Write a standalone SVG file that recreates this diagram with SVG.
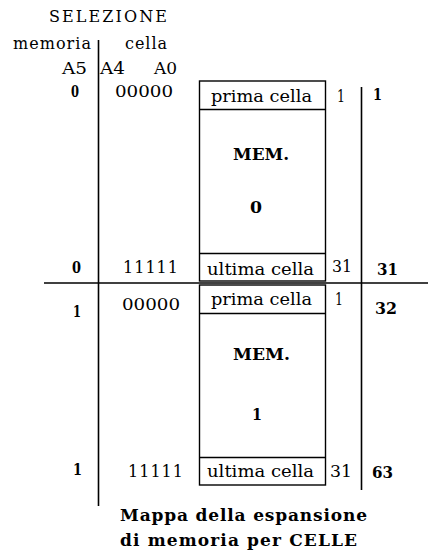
<svg xmlns="http://www.w3.org/2000/svg" width="428" height="555" viewBox="0 0 428 555">
  <style>
    text { font-family: "DejaVu Serif", "Liberation Serif", serif; fill: #000; }
    .t { font-size: 16px; }
    .b { font-size: 16px; font-weight: bold; }
    .cap { font-size: 17px; font-weight: bold; }
    .ln { stroke: #000; stroke-width: 1.6; fill: none; }
    .box { stroke: #000; stroke-width: 1.4; fill: #fff; }
  </style>

  <!-- header -->
  <g id="header">
    <text class="t" x="49" y="22" font-size="17" textLength="118" lengthAdjust="spacing">SELEZIONE</text>
    <text class="t" x="13" y="49" textLength="78" lengthAdjust="spacing">memoria</text>
    <text class="t" x="125" y="49" textLength="42" lengthAdjust="spacing">cella</text>
    <text class="t" x="62" y="74" textLength="25" lengthAdjust="spacingAndGlyphs">A5</text>
    <text class="t" x="100" y="74" textLength="25" lengthAdjust="spacingAndGlyphs">A4</text>
    <text class="t" x="154" y="74" textLength="23" lengthAdjust="spacingAndGlyphs">A0</text>
  </g>

  <!-- connectors: address axis lines -->
  <g id="connectors">
    <line class="ln" x1="98.5" y1="40" x2="98.5" y2="506"/>
    <line class="ln" x1="44" y1="283" x2="428" y2="283"/>
    <line class="ln" x1="361.5" y1="87" x2="361.5" y2="490"/>
  </g>

  <!-- memory block 0 -->
  <g id="mem0">
    <rect class="box" x="199.5" y="81" width="126" height="200"/>
    <line class="box" x1="199.5" y1="109.5" x2="325.5" y2="109.5"/>
    <line class="box" x1="199.5" y1="253.5" x2="325.5" y2="253.5"/>
    <text class="t" x="211" y="102" textLength="101" lengthAdjust="spacingAndGlyphs">prima cella</text>
    <text class="b" x="233" y="160" textLength="56" lengthAdjust="spacingAndGlyphs">MEM.</text>
    <text class="b" x="250" y="213" font-size="17" textLength="12" lengthAdjust="spacingAndGlyphs">0</text>
    <text class="t" x="207" y="275" textLength="107" lengthAdjust="spacingAndGlyphs">ultima cella</text>
  </g>

  <!-- memory block 1 -->
  <g id="mem1">
    <rect class="box" x="199.5" y="285" width="126" height="200"/>
    <line class="box" x1="199.5" y1="313.5" x2="325.5" y2="313.5"/>
    <line class="box" x1="199.5" y1="457.5" x2="325.5" y2="457.5"/>
    <text class="t" x="211" y="305" textLength="101" lengthAdjust="spacingAndGlyphs">prima cella</text>
    <text class="b" x="233" y="360" textLength="57" lengthAdjust="spacingAndGlyphs">MEM.</text>
    <text class="b" x="252" y="420" font-size="17" textLength="10" lengthAdjust="spacingAndGlyphs">1</text>
    <text class="t" x="207" y="477" textLength="107" lengthAdjust="spacingAndGlyphs">ultima cella</text>
  </g>

  <!-- address column: A5 and A4..A0 -->
  <g id="addresses">
    <text class="b" x="71" y="97" textLength="8" lengthAdjust="spacingAndGlyphs">0</text>
    <text class="t" x="115" y="97" textLength="58" lengthAdjust="spacingAndGlyphs">00000</text>
    <text class="b" x="72" y="273" textLength="9" lengthAdjust="spacingAndGlyphs">0</text>
    <text class="t" x="123" y="273" textLength="55" lengthAdjust="spacing">11111</text>
    <text class="b" x="73" y="317" textLength="8" lengthAdjust="spacingAndGlyphs">1</text>
    <text class="t" x="122" y="310" textLength="58" lengthAdjust="spacingAndGlyphs">00000</text>
    <text class="b" x="73" y="475" textLength="9" lengthAdjust="spacingAndGlyphs">1</text>
    <text class="t" x="128" y="477" textLength="55" lengthAdjust="spacing">11111</text>
  </g>

  <!-- cell numbers: local and global -->
  <g id="numbers">
    <text class="t" x="337" y="102" textLength="8" lengthAdjust="spacingAndGlyphs">1</text>
    <text class="b" x="373" y="100" textLength="9" lengthAdjust="spacingAndGlyphs">1</text>
    <text class="t" x="332" y="272" textLength="20" lengthAdjust="spacingAndGlyphs">31</text>
    <text class="b" x="377" y="275" textLength="21" lengthAdjust="spacingAndGlyphs">31</text>
    <text class="t" x="335" y="305" textLength="8" lengthAdjust="spacingAndGlyphs">1</text>
    <text class="b" x="375" y="314" textLength="22" lengthAdjust="spacingAndGlyphs">32</text>
    <text class="t" x="330" y="477" textLength="22" lengthAdjust="spacingAndGlyphs">31</text>
    <text class="b" x="372" y="478" textLength="21" lengthAdjust="spacingAndGlyphs">63</text>
  </g>

  <!-- caption -->
  <g id="caption">
    <text class="cap" x="120" y="521" textLength="247" lengthAdjust="spacing">Mappa della espansione</text>
    <text class="cap" x="120" y="546" textLength="237" lengthAdjust="spacing">di memoria per CELLE</text>
  </g>
</svg>
